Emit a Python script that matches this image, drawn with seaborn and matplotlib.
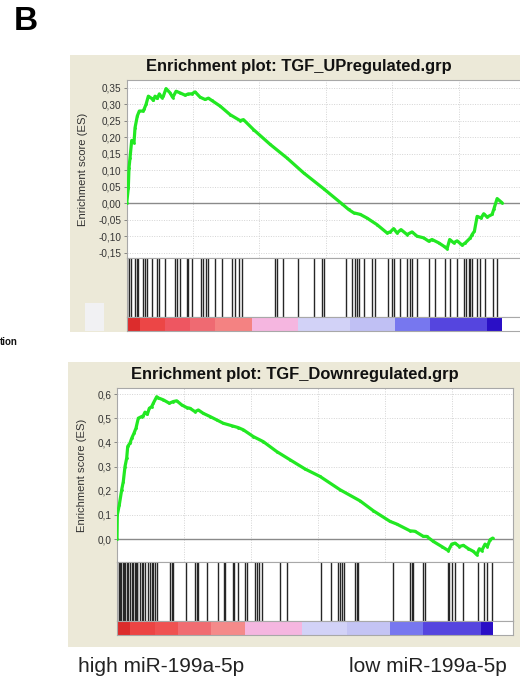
import numpy as np
import pandas as pd
import matplotlib
matplotlib.use("Agg")
import matplotlib.pyplot as plt
from matplotlib.patches import Rectangle
import seaborn as sns

sns.set_theme(style="white")
plt.rcParams['font.family'] = ['Liberation Sans', 'DejaVu Sans']

# ---------------- data ----------------
up_title = "Enrichment plot: TGF_UPregulated.grp"
down_title = "Enrichment plot: TGF_Downregulated.grp"

up_rank = [0, 121, 173, 249, 377, 550, 626, 799, 950, 1207, 1305, 1455, 1631, 1885, 2006,
           2134, 2308, 2458, 2639, 2760, 2964, 3265, 3469, 3718, 4020, 4397, 4645, 4902,
           5151, 5528, 5905, 6154, 6410, 7036, 7790, 8544, 8793, 9547, 10806, 12066, 13318,
           14826, 16213, 16711, 17088, 17594, 18099, 18853, 19607, 19855, 20105, 20360,
           20662, 21115, 21492, 21869, 22367, 22744, 23000, 23497, 23875, 24131, 24328,
           24630, 24886, 25263, 25512, 25889, 26017, 26190, 26394, 26695, 26892, 27147,
           27524, 27646, 27902, 28279]
up_es = [0.0, 0.046, 0.107, 0.137, 0.19, 0.183, 0.228, 0.264, 0.279, 0.279, 0.284, 0.299,
         0.324, 0.317, 0.311, 0.324, 0.317, 0.331, 0.320, 0.324, 0.347, 0.334, 0.320, 0.339,
         0.334, 0.327, 0.331, 0.331, 0.337, 0.321, 0.314, 0.318, 0.311, 0.294, 0.268, 0.250,
         0.253, 0.223, 0.178, 0.137, 0.092, 0.044, -0.002, -0.019, -0.029, -0.034, -0.045,
         -0.065, -0.090, -0.087, -0.077, -0.090, -0.080, -0.095, -0.087, -0.100, -0.105,
         -0.115, -0.110, -0.120, -0.130, -0.138, -0.110, -0.120, -0.114, -0.127, -0.120,
         -0.105, -0.095, -0.085, -0.040, -0.045, -0.032, -0.042, -0.034, -0.019, 0.014, 0.001]

up_hits = [45, 196, 302, 626, 754, 875, 1252, 1380, 1553, 1885, 2308, 2458, 2888, 3642,
           3771, 4020, 4525, 4645, 4902, 5580, 5777, 5980, 6154, 6660, 7164, 7918, 8167,
           8491, 8672, 11183, 11357, 11809, 12940, 14125, 14705, 14826, 16538, 16967, 17216,
           17344, 17465, 17842, 18476, 18725, 19652, 19984, 20105, 20557, 21115, 21311,
           21492, 21869, 22744, 23249, 24004, 24328, 24886, 25384, 25588, 25761, 25889,
           26017, 26394, 26643, 27020, 27601, 27902]

down_rank = [0, 22, 172, 351, 470, 597, 724, 799, 970, 1097, 1269, 1418, 1590, 1843, 1963,
             2090, 2262, 2411, 2590, 2709, 2963, 3082, 3455, 3903, 4202, 4455, 4828, 5201,
             5448, 5821, 6067, 6441, 6941, 7441, 7933, 8560, 9053, 9426, 10172, 10918, 11918,
             12911, 14030, 15150, 16642, 18135, 19128, 20374, 20873, 21867, 22240, 22859,
             23113, 23606, 24233, 24725, 24979, 25225, 25547, 25845, 26218, 26591, 26844,
             27038, 27217, 27464, 27635, 27836, 28038]
down_es = [0.0, 0.100, 0.142, 0.204, 0.238, 0.30, 0.335, 0.383, 0.397, 0.417, 0.438, 0.459,
           0.50, 0.507, 0.51, 0.525, 0.516, 0.541, 0.548, 0.562, 0.589, 0.584, 0.576, 0.562,
           0.569, 0.572, 0.555, 0.544, 0.541, 0.527, 0.534, 0.520, 0.507, 0.493, 0.479, 0.469,
           0.461, 0.452, 0.424, 0.403, 0.362, 0.328, 0.290, 0.259, 0.204, 0.158, 0.117, 0.073,
           0.062, 0.034, 0.032, 0.011, 0.011, -0.010, -0.031, -0.048, -0.021, -0.017, -0.031,
           -0.026, -0.040, -0.051, -0.065, -0.040, -0.048, -0.021, -0.031, -0.003, 0.004]

down_hits = [22, 127, 224, 321, 425, 522, 619, 724, 843, 970, 1097, 1216, 1343, 1418, 1470,
             1515, 1716, 1888, 1963, 2090, 2336, 2463, 2590, 2709, 2836, 2963, 3955, 4082,
             4157, 5149, 5821, 5948, 6067, 6694, 7560, 7985, 8060, 8635, 8732, 9053, 9553,
             9725, 10299, 10426, 10620, 10799, 12165, 12665, 15202, 15971, 16515, 16642,
             16769, 16941, 17762, 17889, 18008, 20620, 21867, 21994, 22113, 22837, 22986,
             24725, 24800, 24979, 25225, 25800, 26964, 27389, 27590, 27963]

up_cb_edges = [0, 1003, 2888, 4773, 6660, 9426, 12918, 16840, 20234, 22873, 27171, 28250]
up_cb_colors = ['#dc2c2c', '#ec4646', '#ee5661', '#ef6a72', '#f48282', '#f5b6e0',
                '#d2d2f7', '#c0c0f4', '#7777ef', '#5545df', '#2a0fc6']
down_cb_edges = [0, 970, 2836, 4575, 7000, 9553, 13784, 17143, 20374, 22837, 27143, 28061]
down_cb_colors = ['#dc2c2c', '#ec4444', '#ef5252', '#f06c72', '#f48a8a', '#f5b6e0',
                  '#d2d2f7', '#c4c4f4', '#7777ef', '#5545df', '#2a0fc6']

up_yticks = [-0.15, -0.10, -0.05, 0.0, 0.05, 0.10, 0.15, 0.20, 0.25, 0.30, 0.35]
down_yticks = [0.0, 0.1, 0.2, 0.3, 0.4, 0.5, 0.6]

# ---------------- layout ----------------
W, H = 520, 686
fig = plt.figure(figsize=(W / 100, H / 100), dpi=100)
fig.patch.set_facecolor('white')
BEIGE = '#ece9d8'
GREEN = '#22e822'
GRID = '#d4d4d4'
SPINE = '#a8a8a8'


def fbox(x0, y0, x1, y1):
    return [x0 / W, 1 - y1 / H, (x1 - x0) / W, (y1 - y0) / H]


def panel(bg, left, right, es_top, es_bot, hit_bot, cb_bot, xmax, ylim, yticks, ydec,
          ranks, es, hits, cb_edges, cb_colors, title, title_y, title_x, ylab_x):
    fig.add_artist(Rectangle((bg[0] / W, 1 - bg[3] / H), (bg[2] - bg[0]) / W,
                             (bg[3] - bg[1]) / H, transform=fig.transFigure,
                             facecolor=BEIGE, edgecolor='none', zorder=0))
    fig.text(title_x / W, 1 - title_y / H, title, ha='center', va='center',
             fontsize=11.9, fontweight='bold', color='#111111')

    ax = fig.add_axes(fbox(left, es_top, right, es_bot))
    ax.set_facecolor('white')
    df = pd.DataFrame({'rank': ranks, 'es': es})
    sns.lineplot(data=df, x='rank', y='es', ax=ax, color=GREEN, lw=2.3,
                 marker='o', markersize=2.0, markeredgewidth=0, estimator=None,
                 sort=False, zorder=3)
    ax.axhline(0, color='#8a8a8a', lw=1.0, zorder=2)
    ax.set_xlim(0, xmax)
    ax.set_ylim(*ylim)
    ax.set_xticks(range(0, 30000, 5000))
    ax.set_yticks(yticks)
    ax.set_yticklabels([f"{v:.{ydec}f}".replace('.', ',') for v in yticks])
    ax.grid(True, color=GRID, ls=(0, (1, 1.5)), lw=0.7)
    ax.tick_params(axis='x', labelbottom=False, length=0)
    ax.tick_params(axis='y', labelsize=7.2, labelcolor='#333333', length=2,
                   width=0.6, color='#777777', pad=2, left=True)
    ax.set_xlabel('')
    ax.set_ylabel('Enrichment score (ES)', fontsize=8.1, color='#333333')
    ax.yaxis.set_label_coords((ylab_x - left) / (right - left), 0.5)
    for s in ax.spines.values():
        s.set_color(SPINE)
        s.set_linewidth(0.8)

    axh = fig.add_axes(fbox(left, es_bot, right, hit_bot))
    axh.set_facecolor('white')
    axh.vlines(hits, 0, 1, color='#262626', lw=1.0)
    axh.set_xlim(0, xmax)
    axh.set_ylim(0, 1)
    axh.set_xticks([])
    axh.set_yticks([])
    for s in axh.spines.values():
        s.set_color(SPINE)
        s.set_linewidth(0.8)

    axc = fig.add_axes(fbox(left, hit_bot, right, cb_bot))
    axc.set_facecolor('white')
    lefts = cb_edges[:-1]
    widths = [b - a for a, b in zip(cb_edges[:-1], cb_edges[1:])]
    axc.bar(lefts, [1] * len(lefts), width=widths, align='edge', color=cb_colors,
            linewidth=0)
    axc.set_xlim(0, xmax)
    axc.set_ylim(0, 1)
    axc.set_xticks([])
    axc.set_yticks([])
    for s in axc.spines.values():
        s.set_color(SPINE)
        s.set_linewidth(0.8)
    return ax


# top panel
panel(bg=(70, 55, 520, 332), left=126.7, right=521, es_top=80, es_bot=258,
      hit_bot=317, cb_bot=331, xmax=29700, ylim=(-0.166, 0.373), yticks=up_yticks,
      ydec=2, ranks=up_rank, es=up_es, hits=up_hits, cb_edges=up_cb_edges,
      cb_colors=up_cb_colors, title=up_title, title_y=66, title_x=299, ylab_x=88)

# grey box in top panel
fig.add_artist(Rectangle((85 / W, 1 - 331 / H), 19 / W, 28 / H, transform=fig.transFigure,
                         facecolor='#f1f1f3', edgecolor='none', zorder=1))

# bottom panel
panel(bg=(68, 362, 520, 647), left=117, right=513, es_top=388, es_bot=562,
      hit_bot=621, cb_bot=635, xmax=29550, ylim=(-0.095, 0.625), yticks=down_yticks,
      ydec=1, ranks=down_rank, es=down_es, hits=down_hits, cb_edges=down_cb_edges,
      cb_colors=down_cb_colors, title=down_title, title_y=374, title_x=295, ylab_x=87)

# texts
fig.text(25.5 / W, 1 - 21 / H, 'B', ha='center', va='center', fontsize=24,
         fontweight='bold', color='black')
fig.text(0.0, 1 - 342 / H, 'tion', ha='left', va='center', fontsize=7,
         fontweight='bold', color='#111111')
fig.text(161.5 / W, 1 - 666 / H, 'high miR-199a-5p', ha='center', va='center',
         fontsize=15, color='#222222')
fig.text(428 / W, 1 - 666 / H, 'low miR-199a-5p', ha='center', va='center',
         fontsize=15, color='#222222')

fig.savefig('out.png', dpi=100, facecolor='white')
